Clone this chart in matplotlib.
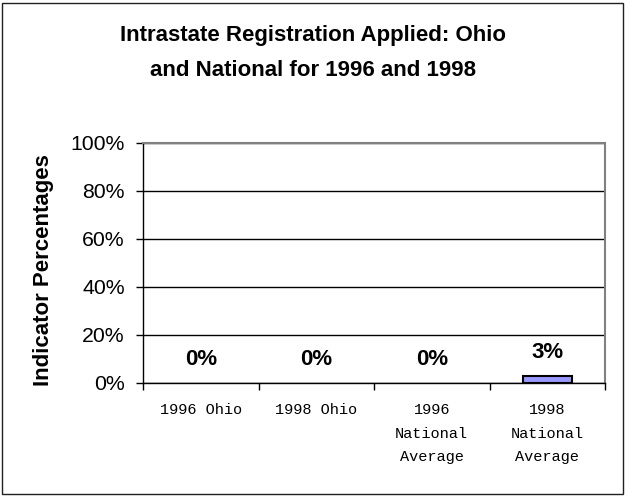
import matplotlib.pyplot as plt
from matplotlib.patches import Rectangle

categories = ["1996 Ohio", "1998 Ohio", "1996\nNational\nAverage", "1998\nNational\nAverage"]
values = [0, 0, 0, 3]  # percent
value_labels = ["0%", "0%", "0%", "3%"]
yticks = [0, 20, 40, 60, 80, 100]

fig = plt.figure(figsize=(6.25, 4.96), dpi=100)
ax = fig.add_axes([143 / 625, 1 - 383 / 496, (605 - 143) / 625, (383 - 143) / 496])

x = list(range(len(categories)))
# zero bars have no visible outline in the original
edges = ["black" if v > 0 else "none" for v in values]
ax.bar(x, values, width=0.42, color="#9999FF", edgecolor=edges, linewidth=1.5, zorder=3)

for xi, v, lab in zip(x, values, value_labels):
    ax.annotate(lab, (xi, v), xytext=(0, 13), textcoords="offset points",
                ha="center", va="baseline", fontsize=16, fontweight="bold",
                family="Liberation Sans")

ax.set_xlim(-0.5, len(categories) - 0.5)
ax.set_ylim(0, 100)
ax.set_yticks(yticks)
ax.set_yticklabels([f"{t}%" for t in yticks], family="Liberation Sans", fontsize=15.3)
ax.yaxis.grid(True, color="black", linewidth=1)
ax.set_axisbelow(True)

ax.set_xticks(x)
ax.set_xticklabels(categories, family="Liberation Mono", fontsize=11, linespacing=1.86)
ax.set_xticks([i - 0.5 for i in range(len(categories) + 1)], minor=True)
ax.tick_params(axis="x", which="major", length=0, pad=14.5)
ax.tick_params(axis="x", which="minor", length=5, width=1, direction="out")
ax.tick_params(axis="y", length=5, width=1, direction="out", pad=8)

for s in ["top", "right"]:
    ax.spines[s].set_color("#808080")
    ax.spines[s].set_linewidth(1.5)
for s in ["left", "bottom"]:
    ax.spines[s].set_color("black")
    ax.spines[s].set_linewidth(1)

fig.text(44 / 625, 1 - 270 / 496, "Indicator Percentages", rotation=90,
         ha="center", va="center", family="Liberation Sans", fontsize=16, fontweight="bold")

fig.text(0.5, 1 - 53 / 496, "Intrastate Registration Applied: Ohio\nand National for 1996 and 1998",
         ha="center", va="center", fontsize=16, fontweight="bold",
         family="Liberation Sans", linespacing=1.88)

fig.patches.append(Rectangle((2 / 625, 2 / 496), 621 / 625, 491 / 496, transform=fig.transFigure,
                             fill=False, edgecolor="#202020", linewidth=1))

fig.savefig("out.png", dpi=100)
